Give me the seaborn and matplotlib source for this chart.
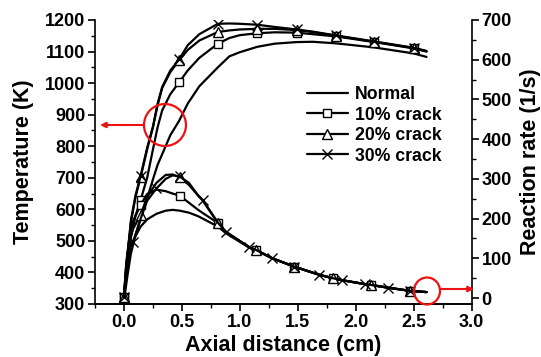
import matplotlib
matplotlib.use("Agg")
import matplotlib.pyplot as plt
import seaborn as sns
from matplotlib.lines import Line2D
from matplotlib.patches import Ellipse
from matplotlib.ticker import MultipleLocator

# ---------------- data ----------------
series_names = ["Normal", "10% crack", "20% crack", "30% crack"]
series_markers = [None, "s", "^", "x"]

# Temperature (K), left axis
x_temp = [0.0, 0.03, 0.06, 0.10, 0.144, 0.20, 0.25, 0.29, 0.33, 0.40, 0.475, 0.55,
          0.65, 0.81, 0.91, 1.0, 1.15, 1.3, 1.49, 1.63, 1.83, 2.16, 2.5, 2.61]
temp_normal = [310, 390, 460, 520, 570, 635, 695, 741, 775, 835, 880, 935,
               990, 1050, 1085, 1098, 1115, 1125, 1130, 1131, 1126, 1113, 1094, 1083]
temp_10 = [315, 420, 510, 580, 630, 700, 790, 860, 914, 965, 1002, 1040,
           1080, 1125, 1143, 1152, 1158, 1161, 1160, 1155, 1148, 1130, 1110, 1100]
temp_20 = [320, 450, 560, 640, 703, 790, 860, 930, 985, 1035, 1072, 1105,
           1135, 1162, 1167, 1170, 1172, 1172, 1168, 1162, 1150, 1131, 1111, 1101]
temp_30 = [320, 455, 565, 645, 706, 795, 862, 935, 988, 1040, 1075, 1120,
           1155, 1188, 1189, 1188, 1185, 1178, 1170, 1163, 1151, 1132, 1112, 1102]
temp_mark_idx = [0, 4, 10, 13, 16, 18, 20, 21, 22]

# Reaction rate (1/s), right axis
x_rate = [0.0, 0.02, 0.05, 0.08, 0.144, 0.20, 0.28, 0.36, 0.42, 0.48, 0.56, 0.64,
          0.68, 0.81, 0.88, 1.08, 1.14, 1.28, 1.47, 1.68, 1.80, 1.88, 2.08, 2.13,
          2.28, 2.47, 2.61]
rate_normal = [3, 70, 128, 145, 180, 198, 212, 220, 222, 220, 215, 206,
               200, 180, 163, 127, 120, 100, 79, 59, 50, 45, 35, 33, 26, 18, 15]
rate_10 = [3, 90, 160, 195, 235, 262, 273, 269, 263, 258, 240, 222,
           214, 189, 167, 128, 121, 100, 79, 59, 50, 45, 35, 33, 26, 18, 15]
rate_20 = [3, 85, 150, 175, 209, 255, 290, 310, 311, 304, 285, 258,
           245, 189, 166, 128, 121, 100, 79, 59, 50, 45, 35, 33, 26, 18, 15]
rate_30 = [3, 80, 125, 142, 200, 245, 276, 300, 309, 306, 290, 258,
           247, 190, 166, 128, 121, 100, 79, 59, 50, 45, 35, 33, 26, 18, 15]
rate_mark_idx = [0, 4, 9, 13, 16, 18, 20, 23, 25]
rate_mark_idx_30 = [0, 3, 6, 9, 12, 14, 15, 17, 18, 19, 21, 22, 24, 25]

x_ticks = [0.0, 0.5, 1.0, 1.5, 2.0, 2.5, 3.0]
temp_ticks = [300, 400, 500, 600, 700, 800, 900, 1000, 1100, 1200]
rate_ticks = [0, 100, 200, 300, 400, 500, 600, 700]

# ---------------- style ----------------
sns.set_theme(style="ticks")
plt.rcParams['font.family'] = ['Liberation Sans', 'DejaVu Sans']
plt.rcParams['font.weight'] = 'bold'
plt.rcParams['axes.labelweight'] = 'bold'
for k in ['axes.edgecolor', 'text.color', 'axes.labelcolor', 'xtick.color', 'ytick.color']:
    plt.rcParams[k] = 'black'

W, H = 541, 357
L, R, T, B = 95, 471.7, 20, 304
fig = plt.figure(figsize=(W / 100, H / 100), dpi=100)
ax = fig.add_axes([L / W, 1 - B / H, (R - L) / W, (B - T) / H])
ax2 = ax.twinx()

LW = 1.6
msizes = {"s": 6, "^": 6.5, "x": 7}


def draw(axis, x, y, marker, idx):
    kw = dict(color='black', linewidth=LW, ax=axis, legend=False, sort=False,
              estimator=None)
    if marker:
        kw.update(marker=marker, markevery=idx, markersize=msizes[marker],
                  markerfacecolor='white', markeredgecolor='black',
                  markeredgewidth=1.0)
    sns.lineplot(x=x, y=y, **kw)


temps = [temp_normal, temp_10, temp_20, temp_30]
rates = [rate_normal, rate_10, rate_20, rate_30]
for name, mk, ty, ry in zip(series_names, series_markers, temps, rates):
    draw(ax, x_temp, ty, mk, temp_mark_idx)
    draw(ax2, x_rate, ry, mk, rate_mark_idx_30 if mk == "x" else rate_mark_idx)

ax.set_xlim(-0.25, 3.0)
ax.set_ylim(300, 1200)
ax2.set_ylim(-15, 700)
ax.set_xticks(x_ticks)
ax.set_xticklabels([f"{v:.1f}" for v in x_ticks])
ax.set_yticks(temp_ticks)
ax2.set_yticks(rate_ticks)
ax.xaxis.set_minor_locator(MultipleLocator(0.25))
ax.yaxis.set_minor_locator(MultipleLocator(50))
ax2.yaxis.set_minor_locator(MultipleLocator(50))

for a in (ax, ax2):
    a.spines['top'].set_visible(False)
    for s in a.spines.values():
        s.set_linewidth(1.2)
    a.tick_params(which='major', direction='out', length=5, width=1.2,
                  labelsize=13, pad=2)
    a.tick_params(which='minor', direction='out', length=3, width=1.0)
ax.spines['right'].set_visible(False)
ax2.spines['left'].set_visible(False)

ax.set_xlabel("Axial distance (cm)", fontsize=15.5, labelpad=3)
ax.set_ylabel("Temperature (K)", fontsize=15.5, labelpad=8)
ax2.set_ylabel("Reaction rate (1/s)", fontsize=15.5, labelpad=6)

# legend
handles = []
for name, mk in zip(series_names, series_markers):
    if mk:
        handles.append(Line2D([], [], color='black', lw=LW, marker=mk,
                              markersize=msizes[mk], markerfacecolor='white',
                              markeredgecolor='black', markeredgewidth=1.0))
    else:
        handles.append(Line2D([], [], color='black', lw=LW))
leg = ax2.legend(handles, series_names, loc='upper left',
                 bbox_to_anchor=((307 - L) / (R - L), 1 - (86 - T) / (B - T)),
                 frameon=False, fontsize=12.7, handlelength=2.3,
                 handletextpad=0.4, labelspacing=0.2, borderpad=0,
                 borderaxespad=0)

# red annotations
aw, ah = R - L, B - T
red = '#ee1111'
ax2.add_patch(Ellipse(((165 - L) / aw, 1 - (125 - T) / ah), 42 / aw, 42 / ah,
                      transform=ax2.transAxes, fill=False, ec=red, lw=1.6,
                      clip_on=False, zorder=10))
ax2.annotate('', xy=((100 - L) / aw, 1 - (125 - T) / ah),
             xytext=((144 - L) / aw, 1 - (125 - T) / ah),
             xycoords='axes fraction', textcoords='axes fraction',
             arrowprops=dict(arrowstyle='-|>', color=red, lw=1.5,
                             mutation_scale=8, shrinkA=0, shrinkB=0))
ax2.add_patch(Ellipse(((427 - L) / aw, 1 - (291 - T) / ah), 26 / aw, 27 / ah,
                      transform=ax2.transAxes, fill=False, ec=red, lw=1.6,
                      clip_on=False, zorder=10))
ax2.annotate('', xy=((474 - L) / aw, 1 - (289 - T) / ah),
             xytext=((440 - L) / aw, 1 - (289 - T) / ah),
             xycoords='axes fraction', textcoords='axes fraction',
             arrowprops=dict(arrowstyle='-|>', color=red, lw=1.5,
                             mutation_scale=8, shrinkA=0, shrinkB=0))

fig.savefig("out.png", dpi=100)
